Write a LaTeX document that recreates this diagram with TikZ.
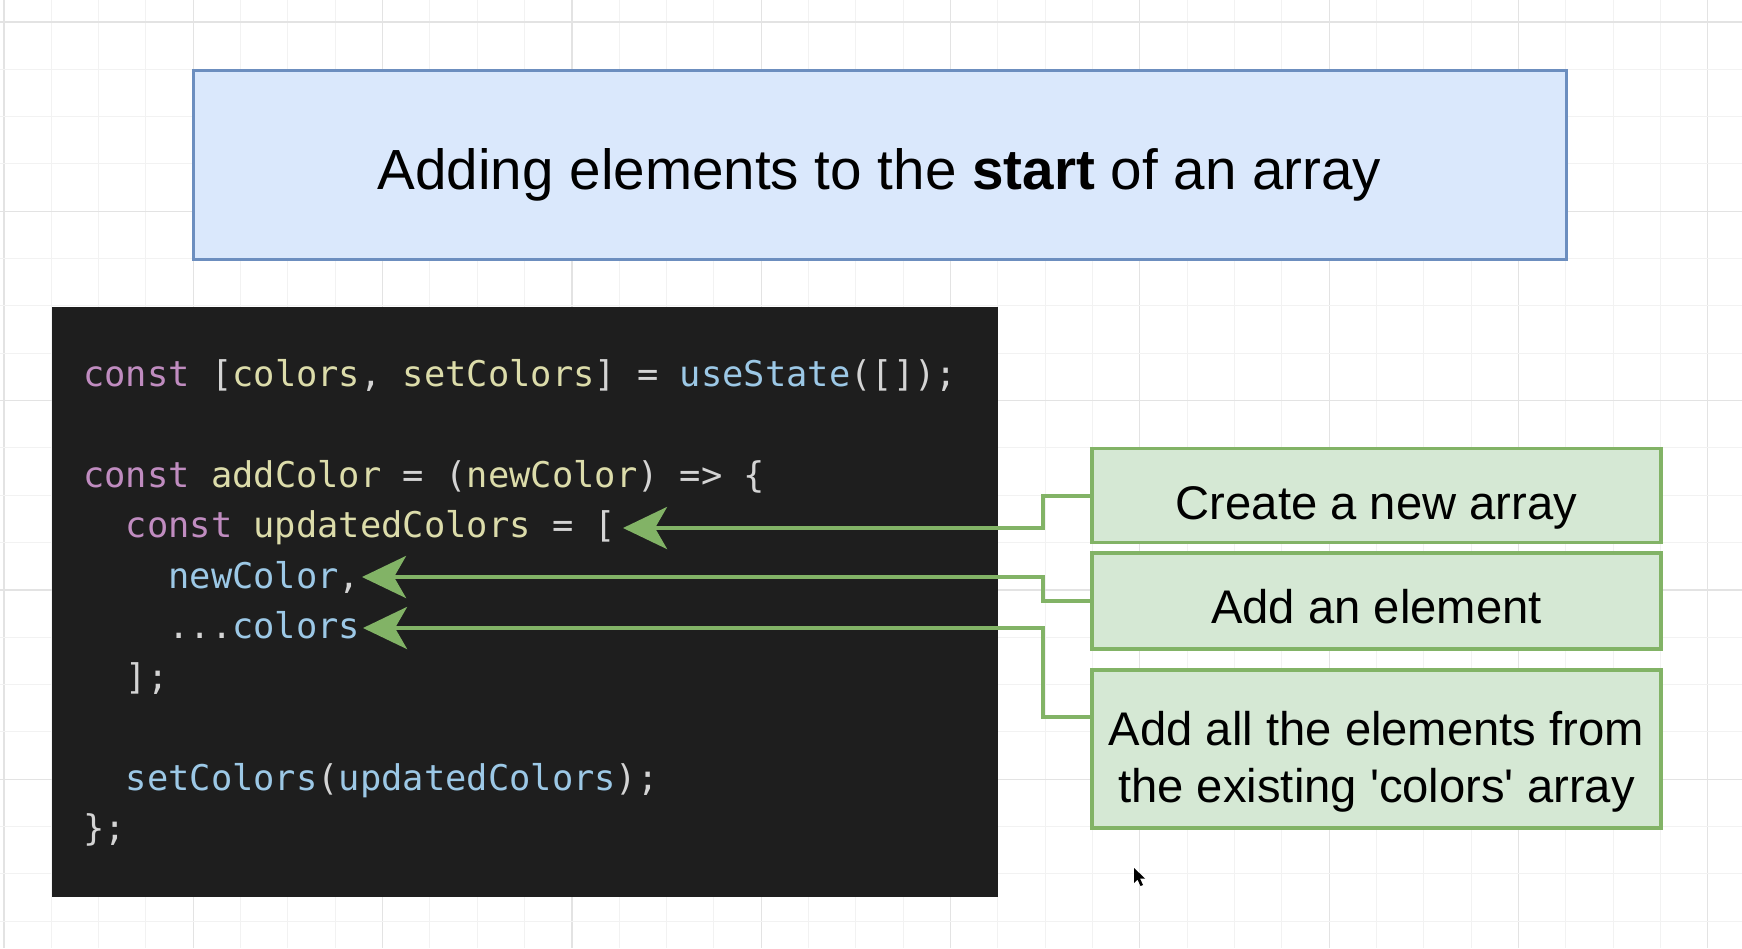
\documentclass[tikz,border=0pt]{standalone}
\usepackage{fontspec}
\usetikzlibrary{arrows.meta}
\newfontfamily\lblfont{Liberation Sans}[Ligatures=TeXOff]
\newfontfamily\codefont{DejaVu Sans Mono}

\definecolor{gridminor}{HTML}{F2F2F2}
\definecolor{gridmajor}{HTML}{E3E3E3}
\definecolor{titlefill}{HTML}{DAE8FC}
\definecolor{titleline}{HTML}{6C8EBF}
\definecolor{notefill}{HTML}{D5E8D4}
\definecolor{noteline}{HTML}{82B366}
\definecolor{codebg}{HTML}{1E1E1E}
\definecolor{cKw}{HTML}{C08CC0}
\definecolor{cId}{HTML}{DCDCAA}
\definecolor{cFn}{HTML}{9CC8E6}
\definecolor{cPn}{HTML}{D4D4D4}

% syntax colouring helpers
\newcommand\skw[1]{\textcolor{cKw}{#1}}
\newcommand\sid[1]{\textcolor{cId}{#1}}
\newcommand\sfn[1]{\textcolor{cFn}{#1}}
\newcommand\spn[1]{\textcolor{cPn}{#1}}

\tikzset{
  titlebox/.style={draw=titleline, fill=titlefill, line width=3pt, inner sep=0pt},
  notebox/.style={draw=noteline, fill=notefill, line width=3.5pt, inner sep=0pt},
  notetext/.style={font=\lblfont\fontsize{47.2}{57}\selectfont, inner sep=0pt, align=center},
  codeline/.style={font=\codefont\fontsize{35.4}{50}\selectfont, inner sep=0pt, anchor=base west},
  pointer/.style={draw=noteline, line width=4pt,
    -{Stealth[length=44pt, width=42pt, inset=12pt]}},
}

\begin{document}
\begin{tikzpicture}[x=1pt, y=-1pt]
\useasboundingbox (0,0) rectangle (1742,948);
\fill[white] (0,0) rectangle (1742,948);

% background grid
\foreach \i in {0,...,36} {
  \pgfmathsetmacro\gx{4+47.325*\i}
  \pgfmathtruncatemacro\gm{mod(\i,4)}
  \ifnum\gm=0
    \draw[gridmajor, line width=1.2pt] (\gx,0) -- (\gx,948);
  \else
    \draw[gridminor, line width=1pt] (\gx,0) -- (\gx,948);
  \fi
}
\foreach \j in {0,...,19} {
  \pgfmathsetmacro\gy{22+47.325*\j}
  \pgfmathtruncatemacro\gm{mod(\j,4)}
  \ifnum\gm=0
    \draw[gridmajor, line width=1.2pt] (0,\gy) -- (1742,\gy);
  \else
    \draw[gridminor, line width=1pt] (0,\gy) -- (1742,\gy);
  \fi
}

% heading
\node[titlebox, minimum width=1373pt, minimum height=189pt] (title) at (879.5,164.5) {};
\node[font=\lblfont\fontsize{56.6}{66}\selectfont, inner sep=0pt, anchor=base] (titletext) at (879.5,189)
  {Adding elements to the \textbf{start} of an array};

% code panel
\node[fill=codebg, minimum width=946pt, minimum height=590pt, inner sep=0pt] (code) at (525,602) {};
\node[codeline] (l1) at (83,386)
  {\skw{const} \spn{[}\sid{colors}\spn{,} \sid{setColors}\spn{]} \spn{=} \sfn{useState}\spn{([]);}};
\node[codeline] (l3) at (83,487)
  {\skw{const} \sid{addColor} \spn{=} \spn{(}\sid{newColor}\spn{)} \spn{=>} \spn{\{}};
\node[codeline] (l4) at (125.6,537.5)
  {\skw{const} \sid{updatedColors} \spn{= [}};
\node[codeline] (l5) at (168.2,588) {\sfn{newColor}\spn{,}};
\node[codeline] (l6) at (168.2,638.5) {\spn{...}\sfn{colors}};
\node[codeline] (l7) at (125.6,689) {\spn{];}};
\node[codeline] (l9) at (125.6,790)
  {\sfn{setColors}\spn{(}\sfn{updatedColors}\spn{);}};
\node[codeline] (l10) at (83,840.5) {\spn{\};}};

% explanation boxes
\node[notebox, minimum width=569pt, minimum height=94pt] (n1) at (1376.5,495.5) {};
\node[notebox, minimum width=569pt, minimum height=96pt] (n2) at (1376.5,601) {};
\node[notebox, minimum width=569pt, minimum height=158pt] (n3) at (1376.5,749) {};
\node[notetext, anchor=base] (n1t) at (1376.5,519) {Create a new array};
\node[notetext, anchor=base] (n2t) at (1376.5,623) {Add an element};
\node[notetext] (n3t) at (1376.5,762) {Add all the elements from\\the existing 'colors' array};

% arrow targets inside the code
\coordinate (p1) at (623,528);
\coordinate (p2) at (362,577);
\coordinate (p3) at (363,628);

% pointers
\draw[pointer] (n1.west) -- ++(-47,0) |- (p1);
\draw[pointer] (n2.west) -- ++(-47,0) |- (p2);
\draw[pointer] ([yshift=32pt]n3.west) -- ++(-47,0) |- (p3);

% mouse pointer
\fill[black] (1134,868) -- (1134,883) -- (1137.5,879.5) -- (1140.5,886) -- (1143,885) -- (1140,878.5) -- (1145,878.5) -- cycle;
\end{tikzpicture}
\end{document}
